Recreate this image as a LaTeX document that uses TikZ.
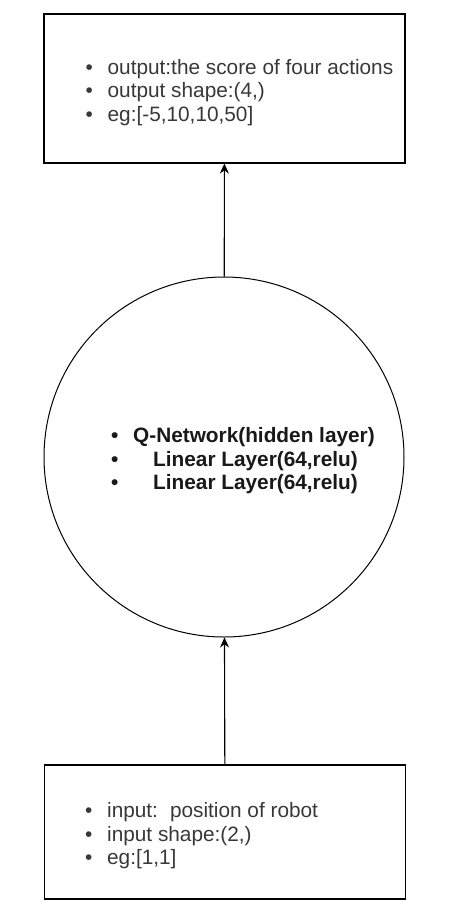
\documentclass[tikz,border=0pt]{standalone}
\usepackage{fontspec}
\setmainfont{Liberation Sans}
\usetikzlibrary{positioning,arrows.meta}
\newcommand{\itm}{\makebox[22pt][l]{\textbullet}}
\tikzset{
  box/.style={draw, line width=1.1pt, minimum width=361pt, inner sep=0pt},
  qcircle/.style={draw, circle, line width=1pt, minimum size=360pt, inner sep=0pt},
  list/.style={align=left, inner sep=0pt, yshift=-4pt, text=black!78, font=\fontsize{20.8}{23.5}\selectfont},
  arr/.style={-{Stealth[length=10pt,width=9pt]}, line width=1.1pt}
}
\begin{document}
\begin{tikzpicture}[x=1pt,y=-1pt]
\useasboundingbox (0,0) rectangle (452,906);
\node[box, minimum height=149pt] (outbox) at (224.5,88.5) {};
\node[qcircle] (qnet) at (224,457) {};
\node[box, minimum height=134pt] (inbox) at (225,832) {};

\node[list, right=42pt of outbox.west, anchor=west] (outtxt) {\itm output:the score of four actions\\ \itm output shape:(4,)\\ \itm eg:[-5,10,10,50]};
\node[list, right=67.5pt of qnet.west, anchor=west, text=black!90, font=\bfseries\fontsize{20.8}{23.5}\selectfont] (qtxt) {\itm Q-Network(hidden layer)\\ \itm\hspace{20pt}Linear Layer(64,relu)\\ \itm\hspace{20pt}Linear Layer(64,relu)};
\node[list, right=41pt of inbox.west, anchor=west] (intxt) {\itm input:\hspace{12pt}position of robot\\ \itm input shape:(2,)\\ \itm eg:[1,1]};

\draw[arr] (inbox) -- (qnet);
\draw[arr] (qnet) -- (outbox);
\end{tikzpicture}
\end{document}
